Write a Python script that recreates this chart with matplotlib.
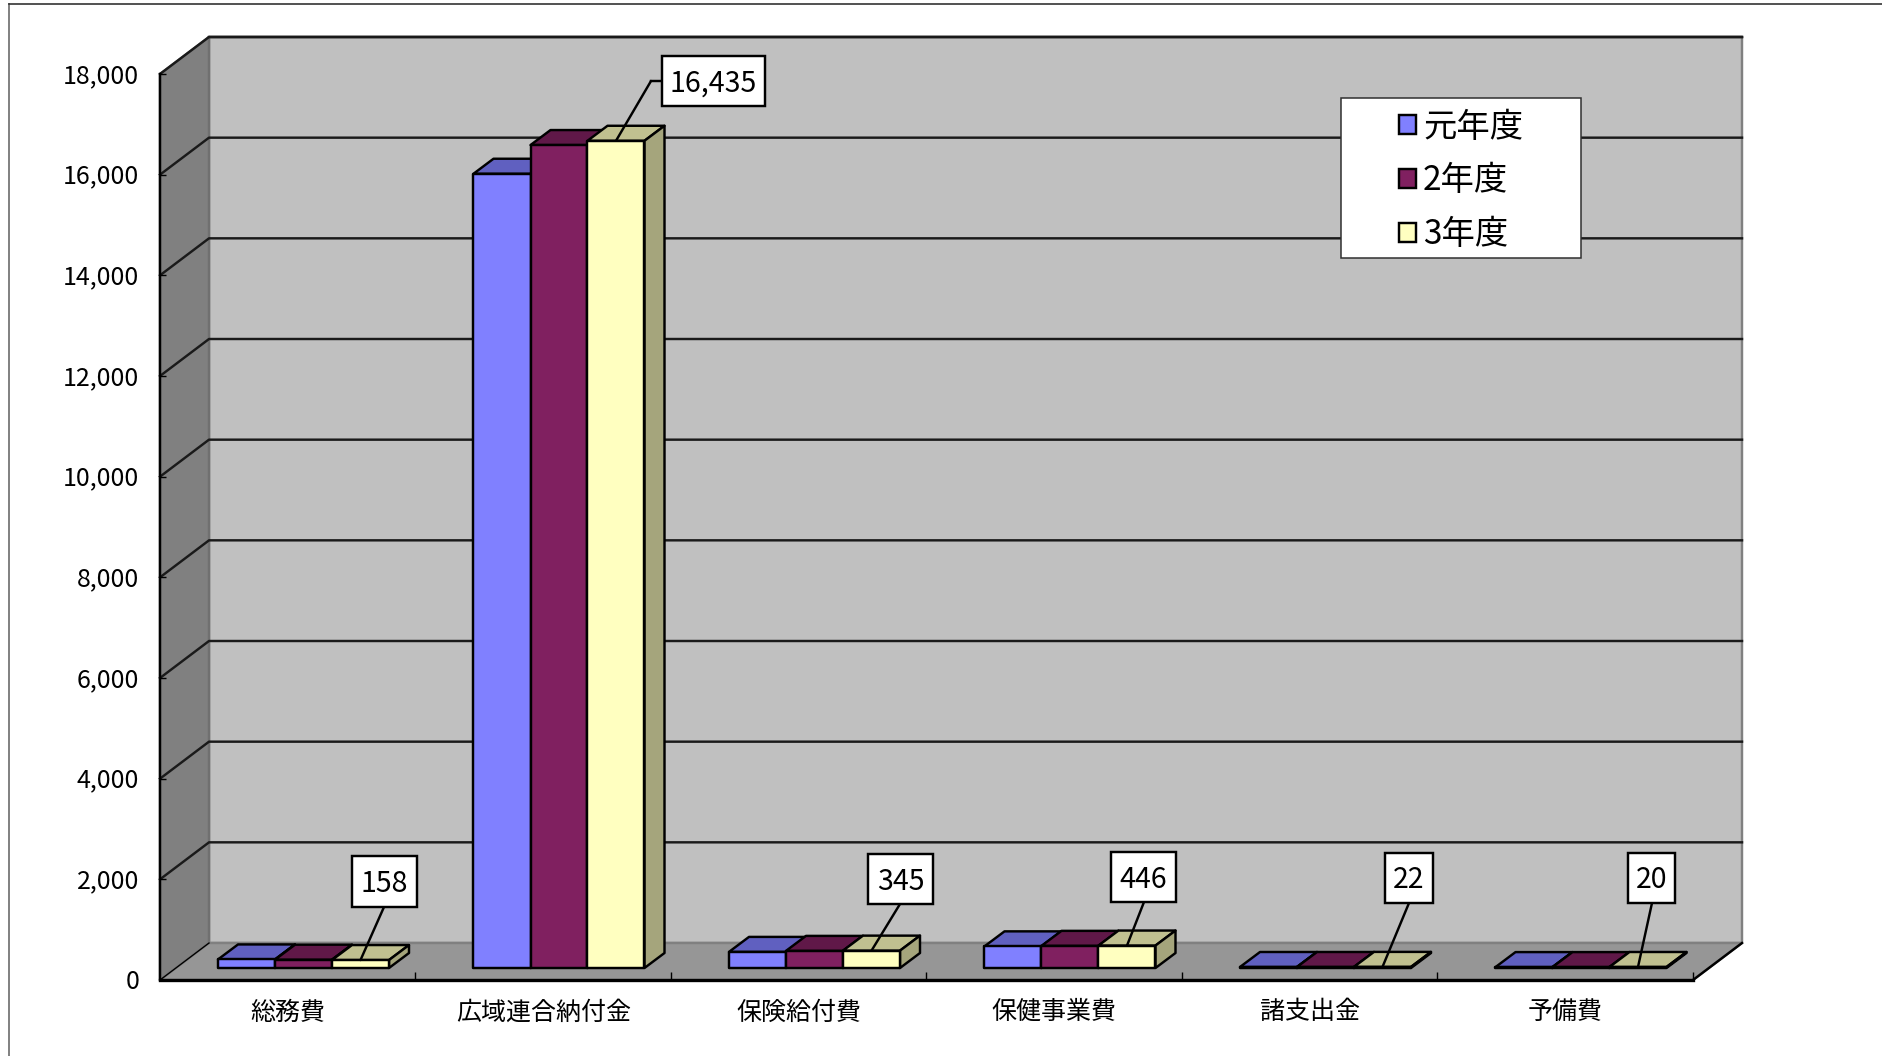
import matplotlib
matplotlib.use("Agg")
import matplotlib.pyplot as plt
from matplotlib.patches import Polygon, Rectangle, Patch
from matplotlib.transforms import IdentityTransform, ScaledTranslation

plt.rcParams['font.family'] = ['Noto Sans CJK JP', 'DejaVu Sans']

# data
categories = ["総務費", "広域連合納付金", "保険給付費", "保健事業費", "諸支出金", "予備費"]
series_names = ["元年度", "2年度", "3年度"]
gannen = [170, 15780, 320, 430, 20, 18]
nen2 = [165, 16350, 340, 440, 20, 18]
nen3 = [158, 16435, 345, 446, 22, 20]
yticks = list(range(0, 18001, 2000))

# colours: front, top, side
front_cols = ["#8080FF", "#802060", "#FFFFC0"]
top_cols = ["#6060C0", "#601848", "#C0C090"]
side_cols = ["#6060A0", "#60184A", "#A5A57C"]

W, H = 1883, 1056
fig = plt.figure(figsize=(W / 100, H / 100), dpi=100, facecolor="white")
ax = fig.add_axes([160 / W, (H - 980) / H, 1533 / W, 906 / H])
ax.set_xlim(0, 6)
ax.set_ylim(0, 18000)
ax.patch.set_visible(False)

# pixel lengths to data units
def px_x(p):
    return p * 6 / 1533

def px_y(p):
    return p * 18000 / 906

depth_x, depth_y = px_x(49), px_y(37)
bar_w = px_x(57)
bar_start = px_x(58)
bar_base = px_y(12)
bar_dx, bar_dy = px_x(20), px_y(15)
lw = 1.75

def poly(pts, fc, ec="black", lw=lw, z=1):
    ax.add_patch(Polygon(pts, closed=True, fc=fc, ec=ec, lw=lw, zorder=z, clip_on=False, joinstyle="round"))

# walls and floor
top = 18000
poly([(depth_x, depth_y), (6 + depth_x, depth_y), (6 + depth_x, top + depth_y), (depth_x, top + depth_y)], "#C0C0C0", ec="#808080")
poly([(0, 0), (depth_x, depth_y), (depth_x, top + depth_y), (0, top)], "#808080", ec="#707070")
poly([(0, 0), (6, 0), (6 + depth_x, depth_y), (depth_x, depth_y)], "#969696", ec="#808080")

# gridlines
for v in yticks[1:]:
    ax.plot([0, depth_x, 6 + depth_x], [v, v + depth_y, v + depth_y], color="#1a1a1a", lw=lw, zorder=1.5, clip_on=False)
ax.plot([depth_x, 6 + depth_x], [top + depth_y, top + depth_y], color="#1a1a1a", lw=lw, zorder=1.5, clip_on=False)
ax.plot([0, depth_x], [0, depth_y], color="black", lw=1, zorder=1.5, clip_on=False)
ax.plot([6, 6 + depth_x], [0, depth_y], color="black", lw=lw, zorder=1.5, clip_on=False)

# bars
for i in range(len(categories)):
    for j, vals in enumerate([gannen, nen2, nen3]):
        x0 = i + bar_start + j * bar_w
        x1 = x0 + bar_w
        y0 = bar_base
        y1 = bar_base + vals[i]
        poly([(x0, y1), (x1, y1), (x1 + bar_dx, y1 + bar_dy), (x0 + bar_dx, y1 + bar_dy)], top_cols[j], z=3 + j)
        poly([(x1, y0), (x1 + bar_dx, y0 + bar_dy), (x1 + bar_dx, y1 + bar_dy), (x1, y1)], side_cols[j], z=3 + j)
        poly([(x0, y0), (x1, y0), (x1, y1), (x0, y1)], front_cols[j], z=3 + j)

# axes
for s in ["top", "right"]:
    ax.spines[s].set_visible(False)
ax.spines["bottom"].set_linewidth(2.4)
ax.spines["left"].set_linewidth(lw)
ax.spines["bottom"].set_zorder(2)
ax.spines["left"].set_zorder(2)
ax.set_yticks(yticks)
ax.set_yticklabels([f"{v:,}" for v in yticks], fontsize=18)
ax.tick_params(axis="y", direction="in", length=4, width=1, pad=15)
# y labels sit a touch above their ticks in the reference
for lab in ax.get_yticklabels():
    lab.set_transform(lab.get_transform() + ScaledTranslation(0, 1 / 100, fig.dpi_scale_trans))
ax.set_xticks([i + 0.5 for i in range(6)])
ax.set_xticklabels(categories, fontsize=18)
ax.set_xticks(range(1, 7), minor=True)
ax.tick_params(axis="x", which="major", length=0, pad=14)
ax.tick_params(axis="x", which="minor", direction="in", length=6, width=1)

# callouts, box and leader start given in picture pixels
to_px = IdentityTransform()
label_boxes = [(352, 856, 417, 907), (662, 56, 765, 106), (868, 854, 933, 904),
               (1111, 852, 1176, 902), (1385, 853, 1433, 903), (1628, 853, 1675, 903)]
leader_starts = [(384, 907), (651, 81), (900, 904), (1144, 902), (1409, 903), (1652, 903)]

for i, (box, start) in enumerate(zip(label_boxes, leader_starts)):
    xc = i + bar_start + 2.5 * bar_w
    ax.annotate("", xy=(xc, bar_base + nen3[i]), xycoords="data",
                xytext=(start[0], H - start[1]), textcoords="figure pixels",
                arrowprops=dict(arrowstyle="-", lw=lw, color="black", shrinkA=0, shrinkB=0),
                annotation_clip=False, zorder=8)
    if i == 1:
        ax.plot([start[0], box[0]], [H - start[1], H - start[1]], color="black", lw=lw, transform=to_px, clip_on=False, zorder=8)
    x0, y0, x1, y1 = box
    ax.add_patch(Rectangle((x0, H - y1), x1 - x0, y1 - y0, fc="white", ec="black", lw=lw,
                           transform=to_px, clip_on=False, zorder=9))
    ax.text((x0 + x1) / 2, H - (y0 + y1) / 2 + 1, f"{nen3[i]:,}", fontsize=20.5, ha="center", va="center_baseline",
            transform=to_px, zorder=10)

# legend
ax.add_patch(Rectangle((1341, H - 258), 240, 160, fc="white", ec="#303030", lw=1.1,
                       transform=to_px, clip_on=False, zorder=9))
handles = [Patch(fc=c, ec="black", lw=lw) for c in front_cols]
leg = ax.legend(handles, series_names, loc="center", bbox_to_anchor=(1461, H - 181),
                bbox_transform=to_px, frameon=False, fontsize=24, handlelength=0.5, handleheight=0.5,
                handletextpad=0.22, labelspacing=0.56, borderpad=0, borderaxespad=0)
leg.set_zorder(10)

# outer frame
fig.add_artist(plt.Line2D([9 / W, 9 / W], [0, (H - 4) / H], color="#808080", lw=1.4))
fig.add_artist(plt.Line2D([9 / W, 1], [(H - 4) / H, (H - 4) / H], color="#333333", lw=1.2))

fig.savefig("out.png", dpi=100)
